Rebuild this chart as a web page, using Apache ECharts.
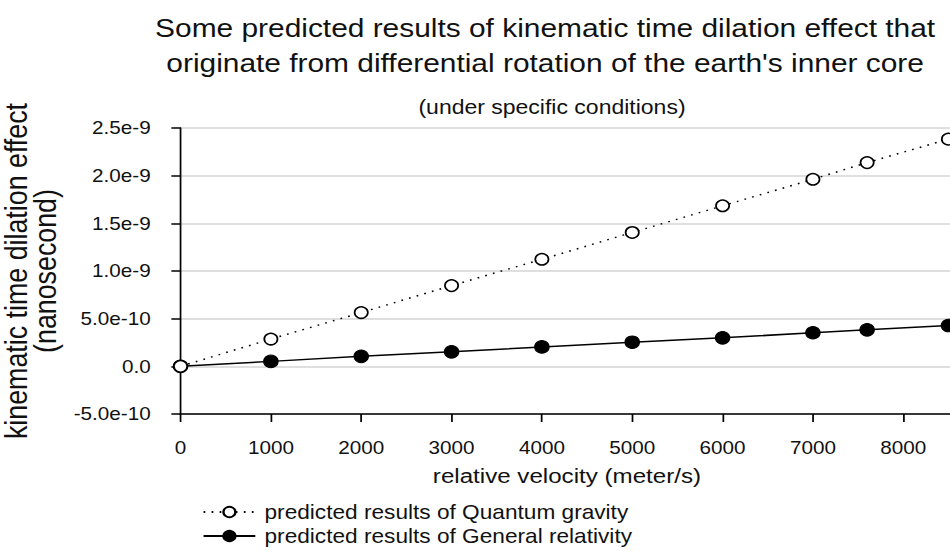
<!DOCTYPE html>
<html>
<head>
<meta charset="utf-8">
<script src="https://cdn.jsdelivr.net/npm/echarts@6/dist/echarts.min.js"></script>
<style>
html,body{margin:0;padding:0;background:#fff;overflow:hidden}
#wrap{width:950px;height:554px;overflow:hidden;position:relative}
#c{width:826px;height:554px;transform:scaleX(1.15);transform-origin:0 0}
</style>
</head>
<body>
<div id="wrap"><div id="c"></div></div>
<script>
const velocities = [0, 1000, 2000, 3000, 4000, 5000, 6000, 7000, 7600, 8500];
const quantumGravity = [0, 2.86e-10, 5.64e-10, 8.47e-10, 1.123e-9, 1.404e-9, 1.684e-9, 1.962e-9, 2.137e-9, 2.383e-9];
const generalRelativity = [0, 5.2e-11, 1.05e-10, 1.52e-10, 2.04e-10, 2.53e-10, 2.99e-10, 3.52e-10, 3.83e-10, 4.28e-10];
const titleLines = ["Some predicted results of kinematic time dilation effect that", "originate from differential rotation of the earth's inner core"];
const subtitleText = "(under specific conditions)";
const xAxisName = "relative velocity (meter/s)";
const yAxisName = "kinematic time dilation effect\n(nanosecond)";
const seriesNames = ["predicted results of Quantum gravity", "predicted results of General relativity"];

const FONT = "Liberation Sans, Arial, sans-serif";
const TXT = "#111";
const chart = echarts.init(document.getElementById('c'), null, { renderer: 'svg' });
const pair = (xs, ys) => xs.map((x, i) => [x, ys[i]]);

chart.setOption({
  animation: false,
  backgroundColor: '#fff',
  title: [
    { text: titleLines.join('\n'), left: 469, top: 6, textAlign: 'center',
      textStyle: { fontFamily: FONT, fontSize: 26, fontWeight: 'normal', color: TXT, lineHeight: 35 } },
    { text: subtitleText, left: 475, top: 92, textAlign: 'center',
      textStyle: { fontFamily: FONT, fontSize: 20, fontWeight: 'normal', color: TXT } },
    { text: xAxisName, left: 488, top: 461, textAlign: 'center',
      textStyle: { fontFamily: FONT, fontSize: 21, fontWeight: 'normal', color: TXT } }
  ],
  grid: { left: 157, top: 128, width: 707, height: 286, outerBoundsMode: 'none', containLabel: false },
  legend: {
    orient: 'vertical', left: 176, top: 502, padding: 0, itemWidth: 45, itemHeight: 13, itemGap: 4,
    textStyle: { fontFamily: FONT, fontSize: 19.7, color: TXT, padding: [0, 0, 0, 3] },
    data: seriesNames
  },
  xAxis: {
    type: 'value', min: 0, max: 9000, interval: 1000,
    axisLine: { onZero: false, lineStyle: { color: '#000', width: 1.5 } },
    axisTick: { show: true, length: 8, lineStyle: { color: '#000', width: 1.5 } },
    axisLabel: { margin: 24, fontFamily: FONT, fontSize: 18, color: TXT, showMaxLabel: false,
      formatter: v => String(v) },
    splitLine: { show: false }
  },
  yAxis: {
    type: 'value', min: -5e-10, max: 2.5e-9, interval: 5e-10,
    name: yAxisName, nameLocation: 'middle', nameGap: 98, nameRotate: 90,
    nameTextStyle: { fontFamily: FONT, fontSize: 26.8, color: TXT, lineHeight: 25 },
    axisLine: { show: true, lineStyle: { color: '#000', width: 1.5 } },
    axisTick: { show: true, length: 8, lineStyle: { color: '#000', width: 1.5 } },
    axisLabel: { margin: 26, fontFamily: FONT, fontSize: 18, color: TXT,
      formatter: v => Math.abs(v) < 1e-20 ? '0.0' : v.toExponential(1).replace('e+', 'e') },
    splitLine: { show: true, lineStyle: { color: '#d4d4d4', width: 1.5 } }
  },
  series: [
    { name: seriesNames[0], type: 'line', data: pair(velocities, quantumGravity),
      symbol: 'circle', symbolSize: 11.5, z: 3,
      lineStyle: { color: '#000', width: 1.5, type: [1.5, 5.5] },
      itemStyle: { color: '#fff', borderColor: '#000', borderWidth: 1.5 } },
    { name: seriesNames[1], type: 'line', data: pair(velocities, generalRelativity),
      symbol: 'circle', symbolSize: 12.5, z: 2,
      lineStyle: { color: '#000', width: 1.5, type: 'solid' },
      itemStyle: { color: '#000', borderColor: '#000', borderWidth: 1 } }
  ]
});
</script>
</body>
</html>
